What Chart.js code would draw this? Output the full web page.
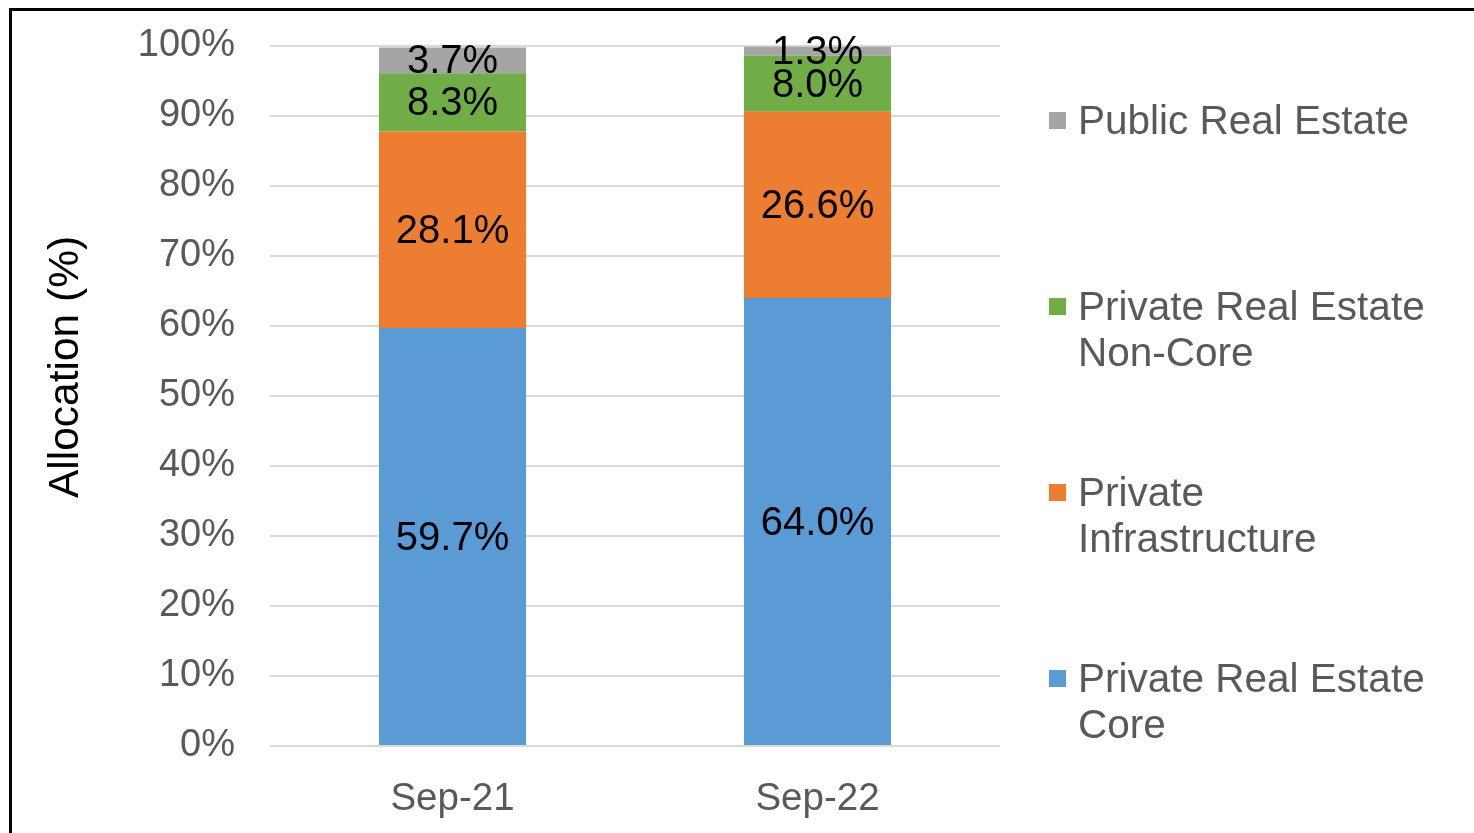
<!DOCTYPE html>
<html>
<head>
<meta charset="utf-8">
<script src="https://cdn.jsdelivr.net/npm/chart.js@4"></script>
<style>
  html, body { margin: 0; padding: 0; background: #fff; overflow: hidden; }
  #wrap { position: relative; width: 1474px; height: 833px; }
  #frame { position: absolute; left: 9px; top: 8px; width: 1500px; height: 860px; border: 3px solid #000; box-sizing: border-box; }
  #chart { position: absolute; left: 0; top: 0; }
  #legend { position: absolute; left: 1046px; top: 97px; width: 420px; font-family: 'Liberation Sans', Arial, sans-serif; font-size: 40.5px; line-height: 46px; color: #595959; white-space: pre-line; }
  .item { position: relative; height: 186px; padding-left: 32px; }
  .box { position: absolute; left: 3px; top: 15px; width: 17px; height: 17px; }
</style>
</head>
<body>
<div id="wrap">
  <div id="frame"></div>
  <canvas id="chart" width="1474" height="833"></canvas>
  <div id="legend"></div>
</div>
<script>
// 数据
const categories = ['Sep-21', 'Sep-22'];
const seriesNames = ['Private Real Estate\nCore', 'Private\nInfrastructure', 'Private Real Estate\nNon-Core', 'Public Real Estate'];
const coreValues = [59.7, 64.0];
const infraValues = [28.1, 26.6];
const nonCoreValues = [8.3, 8.0];
const publicValues = [3.7, 1.3];
const seriesColors = ['#5B9BD5', '#ED7D31', '#70AD47', '#A5A5A5'];
const yTicks = [0, 10, 20, 30, 40, 50, 60, 70, 80, 90, 100];

const FONT = "'Liberation Sans', Arial, sans-serif";

//柱内标签
const barLabels = {
  id: 'barLabels',
  afterDatasetsDraw(chart) {
    const ctx = chart.ctx;
    ctx.save();
    ctx.font = '40px ' + FONT;
    ctx.fillStyle = '#000';
    ctx.textAlign = 'center';
    ctx.textBaseline = 'middle';
    chart.data.datasets.forEach((ds, i) => {
      chart.getDatasetMeta(i).data.forEach((bar, j) => {
        const y = (bar.y + bar.base) / 2;
        ctx.fillText(ds.data[j].toFixed(1) + '%', bar.x, y + 2);
      });
    });
    ctx.restore();
  }
};

//纵轴标题
const yTitle = {
  id: 'yTitle',
  afterDraw(chart) {
    const ctx = chart.ctx;
    ctx.save();
    ctx.translate(66, 367);
    ctx.rotate(-Math.PI / 2);
    ctx.font = '42.5px ' + FONT;
    ctx.fillStyle = '#000';
    ctx.textAlign = 'center';
    ctx.textBaseline = 'middle';
    ctx.fillText('Allocation (%)', 0, 0);
    ctx.restore();
  }
};

const valueSets = [coreValues, infraValues, nonCoreValues, publicValues];
const datasets = seriesNames.map((name, i) => ({
  label: name,
  data: valueSets[i],
  backgroundColor: seriesColors[i],
  borderWidth: 0,
  barPercentage: 1,
  categoryPercentage: 0.403
}));

const chart = new Chart(document.getElementById('chart').getContext('2d'), {
  type: 'bar',
  data: { labels: categories, datasets },
  options: {
    responsive: false,
    animation: false,
    layout: { padding: { left: 10, right: 474, top: 46, bottom: 0 } },
    plugins: { legend: { display: false }, tooltip: { enabled: false } },
    scales: {
      x: {
        stacked: true,
        grid: { display: false },
        border: { display: false },
        ticks: { color: '#595959', font: { family: FONT, size: 38.5 }, padding: 22 },
        afterFit: (scale) => { scale.height = 87; }
      },
      y: {
        stacked: true,
        min: 0,
        max: 100,
        afterBuildTicks: (scale) => { scale.ticks = yTicks.map(v => ({ value: v })); },
        grid: { color: '#D9D9D9', lineWidth: 2, drawTicks: false },
        border: { display: false },
        ticks: {
          color: '#595959',
          font: { family: FONT, size: 38 },
          padding: 35,
          callback: (v) => v + '%'
        },
        afterFit: (scale) => {
          scale.width = 260;
          scale.paddingTop = 0;
          scale.paddingBottom = 0;
        }
      }
    }
  },
  plugins: [barLabels, yTitle]
});

//图例（倒序）
const legendEl = document.getElementById('legend');
for (let i = datasets.length - 1; i >= 0; i--) {
  const item = document.createElement('div');
  item.className = 'item';
  item.innerHTML = '<span class="box" style="background:' + datasets[i].backgroundColor + '"></span>' + datasets[i].label;
  legendEl.appendChild(item);
}
</script>
</body>
</html>
